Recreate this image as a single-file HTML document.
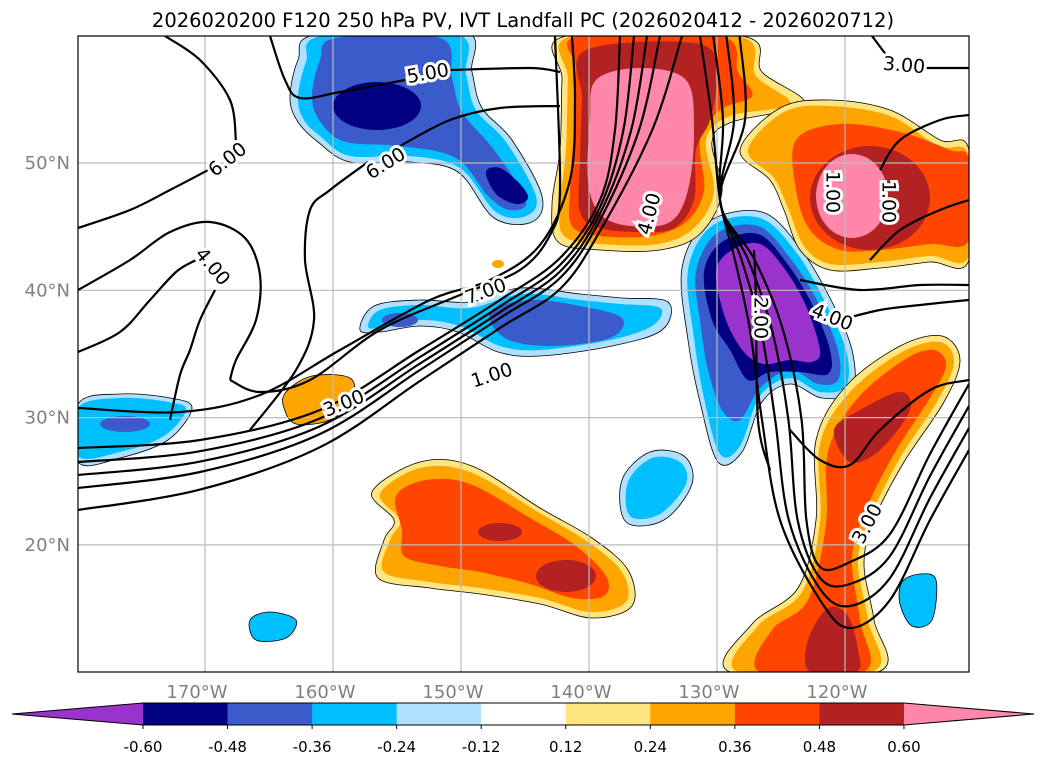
<!DOCTYPE html>
<html><head><meta charset="utf-8"><style>
body{margin:0;background:#fff;width:1047px;height:765px;overflow:hidden;font-family:"Liberation Sans","DejaVu Sans",sans-serif}
svg text{font-family:"DejaVu Sans","Liberation Sans",sans-serif}
</style></head><body>
<svg id="s" width="1047" height="765" xmlns="http://www.w3.org/2000/svg">
<text x="523" y="27" text-anchor="middle" font-size="19.5">2026020200 F120 250 hPa PV, IVT Landfall PC (2026020412 - 2026020712)</text>
<defs><clipPath id="mc"><rect x="78" y="36" width="891" height="636"/></clipPath></defs>
<g id="fills" clip-path="url(#mc)"></g>
<g id="grid"></g>
<g id="cont" clip-path="url(#mc)"></g>
<rect x="78" y="36" width="891" height="636" fill="none" stroke="#000" stroke-width="1.2"/>
<g id="axes"></g>
<g id="cbar"></g>
</svg>
<script>
const levels=["-0.60","-0.48","-0.36","-0.24","-0.12","0.12","0.24","0.36","0.48","0.60"];
const colors=["#9933cc","#000080","#3a5bc9","#00bfff","#b0e0ff","#ffffff","#ffe680","#ffa500","#ff4500","#b22222","#ff88aa"];
const lonLabels=["170°W","160°W","150°W","140°W","130°W","120°W"];
const lonVals=[-170,-160,-150,-140,-130,-120];
const latLabels=["50°N","40°N","30°N","20°N"];
const latVals=[50,40,30,20];
const NS="http://www.w3.org/2000/svg";
function mk(p,tag,a){const e=document.createElementNS(NS,tag);for(const k in a)e.setAttribute(k,a[k]);p.appendChild(e);return e;}
const lonX=v=>205+(v+170)*12.8;
const latY=v=>163+(50-v)*12.73;
function smooth(pts,closed){
 const n=pts.length;let d="M"+pts[0][0]+","+pts[0][1];
 const g=i=>closed?pts[(i+n)%n]:pts[Math.max(0,Math.min(n-1,i))];
 const m=closed?n:n-1;
 for(let i=0;i<m;i++){const p0=g(i-1),p1=g(i),p2=g(i+1),p3=g(i+2);
  d+=" C"+(p1[0]+(p2[0]-p0[0])/6).toFixed(1)+","+(p1[1]+(p2[1]-p0[1])/6).toFixed(1)+" "+(p2[0]-(p3[0]-p1[0])/6).toFixed(1)+","+(p2[1]-(p3[1]-p1[1])/6).toFixed(1)+" "+p2[0]+","+p2[1];}
 return d+(closed?"Z":"");
}
const grid=document.getElementById('grid'),axes=document.getElementById('axes');
lonVals.forEach((v,i)=>{
 const l=mk(grid,'line',{x1:lonX(v),x2:lonX(v),y1:36,y2:672,stroke:"#bbb","stroke-width":1.2});
 
 
 const t=mk(axes,'text',{x:lonX(v)-8,y:698,"text-anchor":"middle","font-size":18,fill:"#808080"});t.textContent=lonLabels[i];
 
 
});
latVals.forEach((v,i)=>{
 const l=mk(grid,'line',{x1:78,x2:969,y1:latY(v),y2:latY(v),stroke:"#bbb","stroke-width":1.2});
 
 
 const t=mk(axes,'text',{x:70,y:latY(v)+6,"text-anchor":"end","font-size":18,fill:"#808080"});t.textContent=latLabels[i];
 
 
});
const cb=document.getElementById('cbar');
const cx0=143,cw=84.55,cy=703,ch=22;
const lt=mk(cb,'polygon',{points:`12,${cy+ch/2} ${cx0},${cy} ${cx0},${cy+ch}`,fill:colors[0]});


for(let i=0;i<levels.length-1;i++){
 const r=mk(cb,'rect',{x:cx0+i*cw,y:cy,width:cw+0.5,height:ch,fill:colors[i+1]});
 
 
}
const xe=cx0+(levels.length-1)*cw;
const rt=mk(cb,'polygon',{points:`${xe},${cy} 1034,${cy+ch/2} ${xe},${cy+ch}`,fill:colors[colors.length-1]});


mk(cb,'polygon',{points:`12,${cy+ch/2} ${cx0},${cy} ${xe},${cy} 1034,${cy+ch/2} ${xe},${cy+ch} ${cx0},${cy+ch}`,fill:"none",stroke:"#000","stroke-width":1});
levels.forEach((lv,i)=>{
 const x=cx0+i*cw;
 mk(cb,'line',{x1:x,x2:x,y1:cy+ch,y2:cy+ch+4,stroke:"#000"});
 const t=mk(cb,'text',{x:x,y:752,"text-anchor":"middle","font-size":15});t.textContent=lv;
 
 
});
const F=document.getElementById('fills');
function blob(ci,pts,name,stroke){const p=mk(F,'path',{d:smooth(pts,true),fill:colors[ci]});if(stroke)p.setAttribute('stroke','#000'),p.setAttribute('stroke-width','0.8');
 
 }
function ell(ci,cx,cy,rx,ry,name){const pts=[];for(let k=0;k<12;k++){const a=k/12*2*Math.PI;pts.push([+(cx+rx*Math.cos(a)).toFixed(1),+(cy+ry*Math.sin(a)).toFixed(1)]);}blob(ci,pts,name);}
blob(4,[[290,98],[298,60],[318,34],[462,30],[472,72],[482,108],[512,140],[542,196],[532,222],[494,218],[458,172],[410,162],[350,162],[318,142],[298,122]],'aleutian-neg-outer',true);
blob(3,[[298,98],[306,62],[322,36],[456,34],[466,74],[476,110],[506,142],[536,196],[526,216],[496,212],[460,168],[410,156],[350,156],[320,136],[304,120]],'aleutian-neg-2');
blob(2,[[312,98],[320,60],[336,38],[440,38],[452,78],[462,112],[494,150],[526,200],[510,210],[488,196],[456,158],[400,146],[346,142],[322,124]],'aleutian-neg-3');
ell(1,377,106,44,24,'aleutian-neg-core');
blob(1,[[486,172],[500,168],[520,184],[528,198],[516,204],[496,194]],'aleutian-neg-core2');
blob(4,[[360,330],[374,306],[420,300],[470,302],[520,288],[580,294],[622,298],[668,302],[662,330],[612,346],[540,356],[498,352],[458,332],[420,326],[380,332]],'midlat-band-neg',true);
blob(3,[[368,326],[380,310],[420,305],[470,308],[522,294],[580,300],[620,304],[660,308],[652,326],[610,340],[540,350],[500,346],[460,326],[420,320],[380,328]],'midlat-band-neg-2');
blob(2,[[490,312],[530,300],[580,306],[622,318],[610,338],[550,346],[505,338]],'midlat-band-neg-3');
ell(2,400,320,18,7,'midlat-band-neg-small');
blob(4,[[78,404],[120,394],[170,398],[192,408],[168,440],[120,458],[78,462]],'west-neg',true);
blob(3,[[78,408],[120,398],[168,402],[186,410],[164,436],[120,452],[78,456]],'west-neg-2');
ell(2,125,424,25,8,'west-neg-3');
blob(4,[[622,480],[650,452],[684,456],[692,484],[664,520],[626,522]],'small-neg-a',true);
blob(3,[[628,482],[652,458],[680,462],[686,484],[660,514],[630,516]],'small-neg-a2');
blob(3,[[250,620],[270,612],[296,620],[286,638],[256,640]],'small-neg-b',true);
blob(3,[[902,582],[920,574],[936,580],[932,620],[912,626],[900,604]],'small-neg-c',true);
blob(4,[[682,268],[708,222],[762,212],[800,248],[830,298],[852,350],[852,392],[822,398],[790,384],[762,402],[742,452],[718,462],[700,402],[688,340]],'coast-neg-outer',true);
blob(3,[[688,270],[712,226],[760,218],[796,252],[824,300],[846,350],[846,386],[820,392],[790,378],[760,396],[740,446],[720,454],[704,398],[694,338]],'coast-neg-2');
blob(2,[[696,272],[716,234],[758,226],[790,258],[818,302],[838,350],[838,380],[818,384],[790,370],[760,388],[740,420],[722,410],[708,370],[700,320]],'coast-neg-3');
blob(1,[[704,272],[722,242],[758,234],[786,262],[812,304],[830,350],[828,374],[800,372],[770,372],[748,380],[730,350],[712,320]],'coast-neg-4');
blob(0,[[716,272],[732,250],[760,244],[784,268],[806,306],[820,350],[812,362],[790,360],[764,364],[744,352],[726,320]],'coast-neg-core');
blob(6,[[566,36],[742,36],[762,72],[804,104],[732,122],[712,142],[722,192],[700,234],[660,250],[600,250],[558,242],[552,204],[560,150],[562,80]],'gulf-pos-outer',true);
blob(7,[[572,36],[738,36],[756,76],[790,104],[730,116],[706,140],[714,192],[694,228],[658,244],[600,244],[564,236],[560,204],[566,150],[568,80]],'gulf-pos-2');
blob(8,[[578,36],[720,36],[738,72],[752,96],[720,110],[700,140],[704,190],[686,222],[650,236],[600,236],[572,226],[570,190],[574,130],[576,70]],'gulf-pos-3');
blob(9,[[586,50],[700,44],[716,80],[710,120],[696,150],[694,200],[674,228],[640,232],[600,228],[580,212],[580,160],[582,100]],'gulf-pos-4');
blob(10,[[596,80],[640,68],[686,80],[694,130],[688,190],[670,222],[630,226],[600,214],[588,180],[590,120]],'gulf-pos-core');
blob(6,[[740,150],[780,108],[830,100],[890,110],[940,140],[969,150],[969,260],[930,262],[880,268],[830,270],[800,250],[784,210],[770,180]],'pnw-pos-outer',true);
blob(7,[[748,150],[784,112],[830,106],[890,116],[938,146],[969,156],[969,256],[930,256],[880,262],[830,264],[804,246],[788,208],[774,178]],'pnw-pos-2');
blob(8,[[796,140],[840,124],[900,132],[950,150],[969,160],[969,240],[930,244],[880,250],[840,250],[810,230],[796,190]],'pnw-pos-3');
ell(9,870,198,60,52,'pnw-pos-4');
ell(10,852,196,36,42,'pnw-pos-core');
blob(6,[[730,672],[752,624],[798,588],[816,520],[816,440],[846,386],[900,346],[942,336],[960,360],[944,402],[904,462],[874,520],[864,564],[874,620],[878,672]],'se-pos-outer',true);
blob(7,[[738,672],[758,626],[802,592],[820,522],[820,444],[850,392],[902,352],[940,342],[954,362],[938,400],[900,458],[870,518],[858,562],[868,620],[872,672]],'se-pos-2');
blob(8,[[760,672],[772,630],[808,600],[826,524],[828,452],[856,400],[904,360],[934,350],[946,366],[930,398],[894,454],[864,514],[852,560],[860,620],[864,672]],'se-pos-3');
blob(9,[[810,672],[808,640],[828,608],[848,616],[858,650],[856,672]],'se-pos-core-s');
blob(9,[[834,430],[860,410],[900,392],[910,410],[880,450],[850,462]],'se-pos-core-n');
blob(7,[[286,392],[312,376],[350,378],[352,400],[330,420],[296,424],[284,408]],'small-pos',true);
ell(7,498,264,6,4,'tiny-pos');
blob(6,[[372,492],[420,462],[472,466],[540,508],[592,538],[628,570],[632,606],[592,618],[540,604],[480,594],[430,588],[378,578],[384,540],[394,520]],'subtrop-pos-outer',true);
blob(7,[[380,494],[420,468],[470,472],[538,512],[588,542],[622,572],[626,602],[590,612],[540,598],[480,588],[430,582],[384,572],[390,540],[400,520]],'subtrop-pos-2');
blob(8,[[396,496],[426,480],[470,484],[530,518],[576,546],[606,576],[604,596],[572,598],[530,584],[480,572],[440,566],[404,556],[402,530]],'subtrop-pos-3');
ell(9,500,532,22,9,'subtrop-core-a');
ell(9,566,576,30,16,'subtrop-core-b');
const C=document.getElementById('cont');
function line(pts,name){const p=mk(C,'path',{d:smooth(pts,false),fill:"none",stroke:"#000","stroke-width":2.2});
 
 }
function lab(x,y,txt,rot){const t=mk(C,'text',{x:x,y:y,"font-size":19,"text-anchor":"middle","dominant-baseline":"middle",transform:`rotate(${rot} ${x} ${y})`,"paint-order":"stroke",stroke:"#fff","stroke-width":6});t.textContent=txt;
 
 }
const offs=[0,14,27,40,62];
offs.forEach((o,i)=>{
 line([[78,448+o],[200,440+o*0.8],[320,410+o*0.6],[420,350+o*0.5],[500,300+o*0.45],[560,258+o*0.5],[600,200+o*0.5],[615+o*0.6,130],[620+o,36]],'pv-contour-jet');
});
line([[78,408],[180,412],[260,395],[340,350],[430,300],[490,280],[540,245],[570,180],[575,100],[572,36]],'pv-contour-7');
line([[230,380],[260,392],[310,380],[380,330],[460,295],[520,270],[550,235],[560,190],[555,36]],'pv-contour-4a');
line([[78,228],[130,210],[170,190],[212,168]],'pv-contour-6a');
line([[236,142],[230,100],[200,60],[165,36]],'pv-contour-6a2');
line([[78,290],[130,260],[170,232],[210,222],[245,238],[260,275],[256,320],[236,360],[230,380]],'pv-contour-5');
line([[78,352],[120,332],[150,300],[176,272],[196,260]],'pv-contour-4');
line([[215,290],[200,320],[190,350],[180,375],[170,420]],'pv-contour-4b');
line([[368,162],[330,190],[310,210],[305,260],[314,320],[296,370],[250,430]],'pv-contour-6b');
line([[400,146],[450,120],[500,108],[560,106]],'pv-contour-6b2');
line([[270,36],[285,80],[300,98],[340,92],[405,80]],'pv-contour-5b');
line([[450,70],[530,68],[560,72]],'pv-contour-5b2');
[0,22,44,66].forEach(d=>{
 line([[700+d*0.6,36],[712+d*0.5,120],[720,200],[735+d*0.3,260],[750+d*0.5,330],[762+d*0.6,420],[780+d*0.4,520],[820,600-d*0.5],[850,628-d],[890,600-d],[930,520-d],[969,450-d]],'pv-contour-u');
});
line([[754,250],[756,300],[758,420],[770,470]],'pv-contour-2');
line([[790,430],[820,460],[850,465],[880,430],[930,390],[969,380]],'pv-contour-1');
line([[840,320],[880,310],[920,305],[969,300]],'pv-contour-e1');
line([[800,280],[860,290],[920,285],[969,285]],'pv-contour-e2');
line([[880,170],[900,140],[940,120],[969,115]],'pv-contour-e3');
line([[870,260],[900,230],[940,210],[969,200]],'pv-contour-e4');
line([[872,36],[890,60]],'pv-contour-3');
line([[922,68],[969,68]],'pv-contour-3b');
lab(228,160,"6.00",-38);lab(386,164,"6.00",-32);lab(212,267,"4.00",50);
lab(428,74,"5.00",-10);lab(486,292,"7.00",-20);lab(492,376,"1.00",-18);
lab(344,404,"3.00",-22);lab(650,214,"4.00",-75);lab(760,318,"2.00",90);
lab(832,318,"4.00",22);lab(868,524,"3.00",-62);lab(904,66,"3.00",5);
lab(832,192,"1.00",90);lab(888,202,"1.00",90);
</script>
</body></html>
